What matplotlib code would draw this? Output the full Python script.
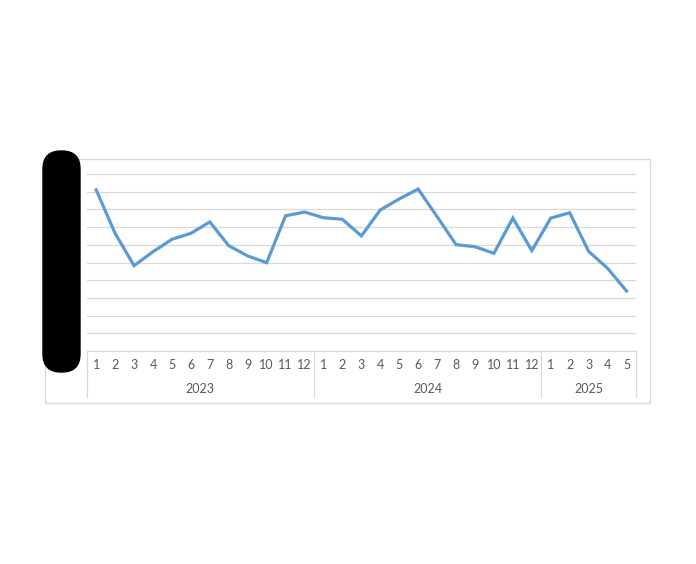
"""
Monthly line chart, Excel style, with two-level category axis (month / year).
Y-axis labels are covered by a black redaction blob, as in the source.
"""
import matplotlib
matplotlib.use("Agg")
import matplotlib.pyplot as plt
import matplotlib.patches as patches

plt.rcParams.update({
    "font.family": ["Lato", "DejaVu Sans"],
    "font.size": 9,
})

# Data (y units: one gridline step = 1)
years = ["2023", "2024", "2025"]
months_2023 = list(range(1, 13))
months_2024 = list(range(1, 13))
months_2025 = list(range(1, 6))
values_2023 = [9.1, 6.65, 4.82, 5.61, 6.31, 6.65, 7.29, 5.95, 5.37, 4.99, 7.64, 7.85]
values_2024 = [7.53, 7.44, 6.50, 7.97, 8.59, 9.15, 7.59, 6.01, 5.89, 5.52, 7.51, 5.67]
values_2025 = [7.51, 7.81, 5.63, 4.67, 3.39]

month_groups = [months_2023, months_2024, months_2025]
values = values_2023 + values_2024 + values_2025
month_labels = [str(m) for g in month_groups for m in g]
x = list(range(len(values)))

W, H = 696, 564
fig = plt.figure(figsize=(W / 100, H / 100), dpi=100)

GRID = "#D9D9D9"
TEXT = "#595959"
BLUE = "#5B9BD5"

# plot area in pixel terms
left, right, top, bottom = 86.7, 636.0, 174.0, 351.0
ax = fig.add_axes([left / W, 1 - bottom / H, (right - left) / W, (bottom - top) / H])

ax.plot(x, values, color=BLUE, lw=2.3, solid_joinstyle="miter", zorder=3)

ax.set_xlim(-0.5, len(values) - 0.5)
ax.set_ylim(0, 10)
ax.set_yticks(range(0, 11))
ax.yaxis.grid(True, color=GRID, lw=0.9)
ax.set_axisbelow(True)
ax.tick_params(left=False, bottom=False, labelleft=False, labelbottom=False)
for s in ["left", "right", "top"]:
    ax.spines[s].set_visible(False)
ax.spines["bottom"].set_color(GRID)
ax.spines["bottom"].set_linewidth(0.9)

# two-level category axis
trans = ax.get_xaxis_transform()
px = 1.0 / (bottom - top)  # one pixel in axes fraction
for xi, lab in zip(x, month_labels):
    ax.text(xi, -14 * px, lab, transform=trans, ha="center", va="center",
            color=TEXT, fontsize=9)

edges = [-0.5]
for g in month_groups:
    edges.append(edges[-1] + len(g))
for e in edges:
    ax.plot([e, e], [0, -46 * px], transform=trans, color=GRID, lw=0.9,
            clip_on=False)
for yr, a, b in zip(years, edges[:-1], edges[1:]):
    ax.text((a + b) / 2, -38 * px, yr, transform=trans, ha="center",
            va="center", color=TEXT, fontsize=9)

# overlay in pixel coordinates: chart frame and redaction blob
ov = fig.add_axes([0, 0, 1, 1], zorder=5)
ov.set_xlim(0, W)
ov.set_ylim(H, 0)
ov.axis("off")
ov.patch.set_alpha(0)
ov.add_patch(patches.Rectangle((45, 159), 605, 244, fill=False,
                               edgecolor=GRID, lw=1.0))
ov.add_patch(patches.FancyBboxPatch((43 + 18, 151 + 18), 37 - 36, 221 - 36,
                                    boxstyle="round,pad=18",
                                    facecolor="black", edgecolor="black"))

fig.savefig("out.png", dpi=100)
plt.close(fig)
